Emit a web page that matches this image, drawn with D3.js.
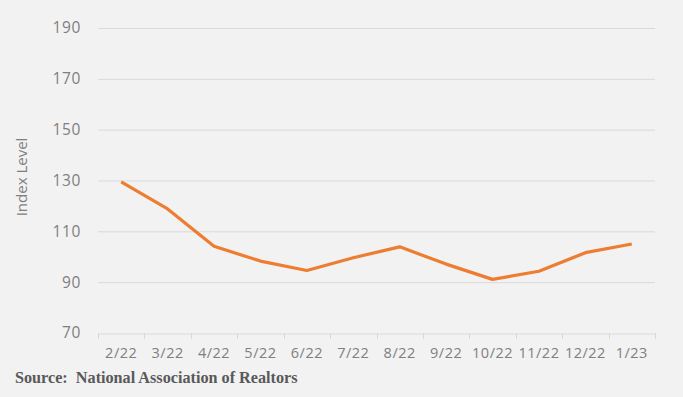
<!DOCTYPE html>
<html><head><meta charset="utf-8">
<script src="https://cdn.jsdelivr.net/npm/d3@7"></script>
<style>
html,body{margin:0;padding:0;background:#f2f2f2;}
svg{display:block;}
.src{font-family:"Liberation Serif","DejaVu Serif",serif;font-weight:bold;}
.lbl{font-family:"Open Sans",sans-serif;}
</style></head>
<body>
<script>
const months = ["2/22","3/22","4/22","5/22","6/22","7/22","8/22","9/22","10/22","11/22","12/22","1/23"];
const indexValues = [129.5, 118.8, 104.1, 98.3, 94.6, 99.6, 103.9, 97.1, 91.1, 94.3, 101.6, 105.0];
const yTicks = [70, 90, 110, 130, 150, 170, 190];

const W = 683, H = 397;
const margin = {left: 98, right: 28, top: 28, bottom: 64};
const svg = d3.select("body").append("svg").attr("width", W).attr("height", H);
svg.append("rect").attr("width", W).attr("height", H).attr("fill", "#f2f2f2");

const x = d3.scaleBand().domain(months).range([margin.left, W - margin.right]);
const y = d3.scaleLinear().domain([70, 190]).range([H - margin.bottom, margin.top]);

// gridlines
svg.append("g").selectAll("line").data(yTicks.filter(d => d !== 70)).join("line")
  .attr("x1", margin.left).attr("x2", W - margin.right)
  .attr("y1", d => y(d) + 0.5).attr("y2", d => y(d) + 0.5)
  .attr("stroke", "#d9d9d9").attr("stroke-width", 1);

// y tick labels
svg.append("g").selectAll("text").data(yTicks).join("text")
  .attr("class", "lbl")
  .attr("x", 81).attr("y", d => y(d)).attr("dy", "0.35em")
  .attr("text-anchor", "end")
  .attr("font-size", 15.5).attr("letter-spacing", 0.6)
  .attr("fill", "#7f7f7f").text(d => d);

// x axis
const xAxis = d3.axisBottom(x).tickSize(0).tickPadding(14);
const gx = svg.append("g").attr("transform", `translate(0,${y(70) + 0.5})`).call(xAxis);
gx.select(".domain").attr("stroke", "#d9d9d9");
gx.selectAll("text").attr("class", "lbl").attr("font-family", null)
  .attr("font-size", 14.5).attr("letter-spacing", 0.5).attr("fill", "#7f7f7f");
// tick marks at category boundaries
const bounds = months.map(m => x(m)).concat([x(months[months.length - 1]) + x.bandwidth()]);
svg.append("g").selectAll("line").data(bounds).join("line")
  .attr("x1", d => Math.round(d) + 0.5).attr("x2", d => Math.round(d) + 0.5)
  .attr("y1", y(70)).attr("y2", y(70) + 6)
  .attr("stroke", "#d9d9d9");

// line
const line = d3.line().x((d, i) => x(months[i]) + x.bandwidth() / 2).y(d => y(d));
svg.append("path").datum(indexValues).attr("d", line)
  .attr("fill", "none").attr("stroke", "#ed7d31").attr("stroke-width", 3.2)
  .attr("stroke-linejoin", "round").attr("stroke-linecap", "butt");

// y label
svg.append("text").attr("class", "lbl")
  .attr("transform", `translate(26.5,177) rotate(-90)`)
  .attr("text-anchor", "middle").attr("font-size", 15)
  .attr("fill", "#7f7f7f").text("Index Level");

// source
svg.append("text").attr("class", "src").attr("x", 15).attr("y", 383)
  .attr("font-size", 16.2).attr("fill", "#595959")
  .attr("xml:space", "preserve").text("Source:  National Association of Realtors");
</script>
</body></html>
